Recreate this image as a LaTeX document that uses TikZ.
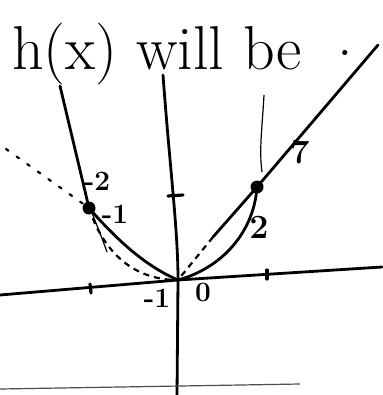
\documentclass[tikz,border=0pt]{standalone}
\usepackage{tikz}
\usetikzlibrary{calc}
\tikzset{
  axis/.style={line width=2.8pt, line cap=round},
  graphline/.style={line width=2.8pt, line cap=round},
  guide/.style={line width=2.2pt, line cap=round, dash pattern=on 3pt off 10pt},
  guidedash/.style={line width=2.2pt, dash pattern=on 6pt off 5pt},
  faint/.style={line width=1.2pt},
  tickmark/.style={line width=3.2pt, line cap=round},
  lbl/.style={font=\fontsize{28}{30}\selectfont\bfseries, inner sep=0pt},
  biglbl/.style={font=\fontsize{34}{36}\selectfont\bfseries, inner sep=0pt},
  title/.style={font=\fontsize{62}{66}\selectfont, inner sep=0pt, anchor=base west},
  dotpt/.style={circle, fill, inner sep=0pt, minimum size=13pt}
}
\begin{document}
\begin{tikzpicture}[x=1pt,y=-1pt]
  \useasboundingbox (0,0) rectangle (382,395);
  \node[title] (ttl) at (12,70) {h(x) will be\hspace{36pt}\raisebox{14pt}{.}};

  % axes
  \coordinate (O) at (178,280);
  \draw[axis] (163,75) .. controls (170,170) and (178,230) .. (O) -- (177,395);
  \draw[axis] (0,295) -- (O) -- (382,267);
  \draw[tickmark] (90,284) -- (91,293);
  \draw[tickmark] (267,270) -- (267,279);
  \draw[tickmark] (168,196) -- (183,195);
  \node[lbl] (mone) at (157,298) {-1};
  \node[lbl] (zero) at (203,292) {0};

  % left branch
  \coordinate (P) at (89,208);
  \draw[graphline] (60,86) -- (P) .. controls (122,246) and (150,268) .. (O);
  \draw[guide] (6,149) -- (P);
  \draw[guidedash] (P) .. controls (102,248) and (130,280) .. (O);
  \draw[faint] (92,213) .. controls (98,228) and (102,238) .. (107,252);
  \node[dotpt] (Pdot) at (P) {};
  \node[lbl] (ltwo) at (97,181) {-2};
  \node[lbl] (lone) at (115,214) {-1};

  % right branch
  \coordinate (Q) at (257,187);
  \draw[graphline] (378,45) -- (Q) -- (213,237);
  \draw[guidedash] (213,237) -- (O);
  \draw[graphline] (Q) .. controls (254,232) and (222,268) .. (O);
  \draw[faint] (264,95) .. controls (262,130) and (259,150) .. (262,172);
  \node[dotpt] (Qdot) at (Q) {};
  \node[biglbl] (rtwo) at (259,227) {2};
  \node[biglbl] (rseven) at (300,152) {7};

  % bottom line
  \draw[faint, black!70] (0,389) -- (300,384);
\end{tikzpicture}
\end{document}
